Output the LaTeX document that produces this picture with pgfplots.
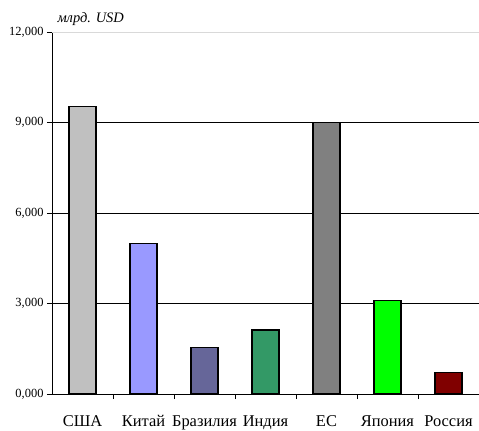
\documentclass[border=0pt]{standalone}
\usepackage{fontspec}
\setmainfont{Liberation Serif}
\usepackage{pgfplots}
\pgfplotsset{compat=1.18}
\definecolor{cusa}{HTML}{C0C0C0}
\definecolor{cchn}{HTML}{9999FF}
\definecolor{cbra}{HTML}{666699}
\definecolor{cind}{HTML}{339966}
\definecolor{ceu}{HTML}{808080}
\definecolor{cjpn}{HTML}{00FF00}
\definecolor{crus}{HTML}{800000}
\begin{document}
\begin{tikzpicture}
\useasboundingbox (0,0) rectangle (479bp,431bp);
\begin{axis}[
  at={(52bp,37bp)}, anchor=south west,
  scale only axis, width=427bp, height=362bp,
  xmin=0, xmax=7, ymin=0, ymax=12000,
  axis lines*=left,
  axis line style={black, line width=0.8pt},
  ybar, bar width=27bp, bar shift=0pt,
  xtick={0.5,1.5,2.5,3.5,4.5,5.5,6.5},
  xticklabels={США,Китай,Бразилия,Индия,ЕС,Япония,Россия},
  x tick label style={font=\fontsize{16.5}{16.5}\selectfont, yshift=-13bp},
  major x tick style={draw=none},
  minor xtick={1,2,3,4,5,6},
  minor x tick style={black, line width=0.6pt},
  scaled y ticks=false,
  ytick={0,3000,6000,9000},
  yticklabels={0{,}000,3{,}000,6{,}000,9{,}000},
  extra y ticks={12000},
  extra y tick labels={12{,}000},
  extra y tick style={grid style={gray!30, line width=0.8pt}},
  y tick label style={font=\fontsize{12.5}{12.5}\selectfont},
  tick align=outside,
  major tick length=5bp, minor tick length=5bp,
  y tick style={black, line width=0.6pt},
  ymajorgrids, grid style={black, line width=0.6pt},
  clip=false,
]
\addplot[fill=cusa, draw=black, line width=1.2pt] coordinates {(0.5,9520)};
\addplot[fill=cchn, draw=black, line width=1.2pt] coordinates {(1.5,4980)};
\addplot[fill=cbra, draw=black, line width=1.2pt] coordinates {(2.5,1530)};
\addplot[fill=cind, draw=black, line width=1.2pt] coordinates {(3.5,2120)};
\addplot[fill=ceu, draw=black, line width=1.2pt] coordinates {(4.5,9000)};
\addplot[fill=cjpn, draw=black, line width=1.2pt] coordinates {(5.5,3090)};
\addplot[fill=crus, draw=black, line width=1.2pt] coordinates {(6.5,700)};
\node[anchor=west, font=\itshape\fontsize{14.5}{14.5}\selectfont] at (rel axis cs:0,1) [xshift=2bp, yshift=13bp] {млрд. USD};
\end{axis}
\end{tikzpicture}
\end{document}
